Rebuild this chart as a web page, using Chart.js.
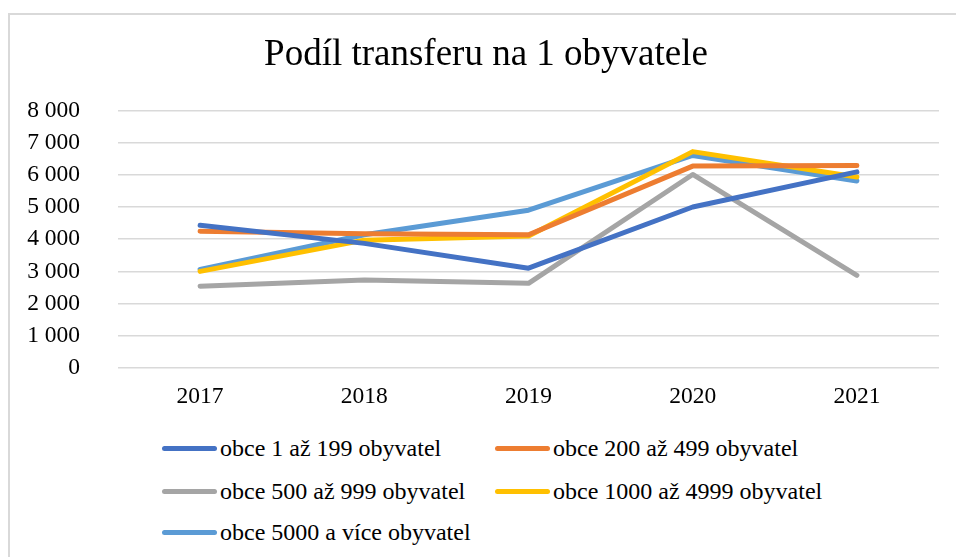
<!DOCTYPE html>
<html>
<head>
<meta charset="utf-8">
<script src="https://cdn.jsdelivr.net/npm/chart.js@4.4.1/dist/chart.umd.min.js"></script>
<style>
  html, body { margin: 0; padding: 0; background: #fff; }
  #wrap { position: relative; width: 956px; height: 557px; overflow: hidden; background: #fff; }
  #frame { position: absolute; left: 8px; top: 13px; width: 1000px; height: 600px; border: 2px solid #d9d9d9; box-sizing: border-box; }
  #cv { position: absolute; left: 0; top: 0; }
  .leg { position: absolute; font-family: "Liberation Serif", "Times New Roman", serif; font-size: 24px; color: #000; white-space: nowrap; line-height: 1; }
  .leg .sw { position: absolute; left: 0; width: 55px; height: 5px; border-radius: 3px; }
  .leg .tx { position: absolute; left: 58px; top: 0; transform: translateY(-50%); }
</style>
</head>
<body>
<div id="wrap">
  <div id="frame"></div>
  <canvas id="cv" width="956" height="425"></canvas>
</div>
<script>
const titleText = "Podíl transferu na 1 obyvatele";
const years = ["2017", "2018", "2019", "2020", "2021"];
const seriesNames = [
  "obce 1 až 199 obyvatel",
  "obce 200 až 499 obyvatel",
  "obce 500 až 999 obyvatel",
  "obce 1000 až 4999 obyvatel",
  "obce 5000 a více obyvatel"
];
const obce1_199 = [4430, 3870, 3100, 5000, 6090];
const obce200_499 = [4250, 4170, 4140, 6270, 6290];
const obce500_999 = [2540, 2730, 2630, 6010, 2880];
const obce1000_4999 = [3000, 3970, 4100, 6720, 5930];
const obce5000 = [3060, 4140, 4900, 6600, 5810];
const seriesColors = ["#4472C4", "#ED7D31", "#A5A5A5", "#FFC000", "#5B9BD5"];
const yTicks = [0, 1000, 2000, 3000, 4000, 5000, 6000, 7000, 8000];

const seriesValues = [obce1_199, obce200_499, obce500_999, obce1000_4999, obce5000];
const fontFam = '"Liberation Serif", "Times New Roman", serif';

// nudge the title slightly right, as in the reference
const titleShift = {
  id: 'titleShift',
  afterLayout(chart) {
    const t = chart.titleBlock;
    if (t) { t.left += 4.5; t.right += 4.5; }
  }
};

const chart = new Chart(document.getElementById('cv'), {
  type: 'line',
  data: {
    labels: years,
    datasets: seriesNames.map((n, i) => ({
      label: n,
      data: seriesValues[i],
      borderColor: seriesColors[i],
      backgroundColor: seriesColors[i],
      borderWidth: 5,
      borderCapStyle: 'round',
      borderJoinStyle: 'round',
      pointRadius: 0,
      tension: 0,
      fill: false
    }))
  },
  plugins: [titleShift],
  options: {
    responsive: false,
    animation: false,
    devicePixelRatio: 1,
    layout: { padding: { left: 24, right: 17, top: 0, bottom: 0 } },
    plugins: {
      legend: { display: false },
      tooltip: { enabled: false },
      title: {
        display: true,
        text: titleText,
        color: '#000',
        font: { family: fontFam, size: 37, weight: 'normal' },
        padding: { top: 33, bottom: 33 }
      }
    },
    scales: {
      x: {
        offset: true,
        grid: { display: false, drawTicks: false },
        border: { display: false },
        ticks: { color: '#000', font: { family: fontFam, size: 23.5 }, padding: 15, maxRotation: 0 },
        afterFit: s => { s.height = 57; }
      },
      y: {
        min: 0,
        max: 8000,
        afterBuildTicks: s => { s.ticks = yTicks.map(v => ({ value: v })); },
        grid: { color: '#d9d9d9', lineWidth: 1.5, drawTicks: false },
        border: { display: false },
        ticks: {
          color: '#000',
          font: { family: fontFam, size: 23.5 },
          padding: 38,
          callback: v => String(v).replace(/\B(?=(\d{3})+(?!\d))/g, ' ')
        },
        afterFit: s => { s.width = 94; }
      }
    }
  }
});

// HTML legend built from the chart's datasets (two columns, as in the reference)
const wrap = document.getElementById('wrap');
const colX = [162, 495];
const rowY = [448, 491, 532];
chart.data.datasets.forEach((ds, i) => {
  const d = document.createElement('div');
  d.className = 'leg';
  d.style.left = colX[i % 2] + 'px';
  d.style.top = rowY[Math.floor(i / 2)] + 'px';
  const sw = document.createElement('div');
  sw.className = 'sw';
  sw.style.background = ds.borderColor;
  sw.style.top = '-2.5px';
  const tx = document.createElement('div');
  tx.className = 'tx';
  tx.textContent = ds.label;
  d.appendChild(sw);
  d.appendChild(tx);
  wrap.appendChild(d);
});
</script>
</body>
</html>
